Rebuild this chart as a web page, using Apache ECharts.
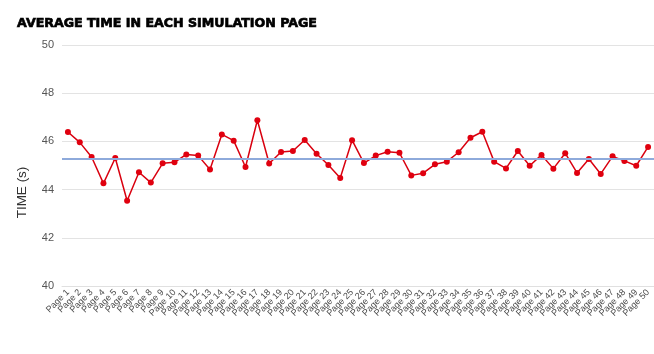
<!DOCTYPE html>
<html>
<head>
<meta charset="utf-8">
<script src="https://cdn.jsdelivr.net/npm/echarts@6/dist/echarts.min.js"></script>
<style>html,body{margin:0;padding:0;background:#fff}#c{width:654px;height:354px}</style>
</head>
<body>
<div id="c"></div>
<script>
const titleText = 'AVERAGE TIME IN EACH SIMULATION PAGE';
const yAxisName = 'TIME (s)';
const categories = [];
for (let i = 1; i <= 50; i++) categories.push('Page ' + i);
const avgTime = [
  46.39, 45.96, 45.35, 44.26, 45.31, 43.54, 44.72, 44.29, 45.09, 45.13,
  45.46, 45.41, 44.83, 46.29, 46.03, 44.94, 46.88, 45.08, 45.56, 45.60,
  46.06, 45.49, 45.02, 44.48, 46.05, 45.10, 45.41, 45.57, 45.53, 44.59,
  44.68, 45.05, 45.16, 45.55, 46.15, 46.40, 45.16, 44.88, 45.60, 44.99,
  45.44, 44.87, 45.51, 44.69, 45.27, 44.65, 45.38, 45.19, 44.99, 45.77
];
const yTicks = { min: 40, max: 50, interval: 2 };

const chart = echarts.init(document.getElementById('c'));
chart.setOption({
  animation: false,
  backgroundColor: '#fff',
  title: {
    text: titleText, left: 12, top: 12, padding: 5,
    textStyle: { fontFamily: 'DejaVu Sans', fontWeight: 'bold', fontSize: 12.6, color: '#000',
      textBorderColor: '#000', textBorderWidth: 0.7 }
  },
  grid: { left: 62, right: 0, top: 45, bottom: 68 },
  xAxis: {
    type: 'category', data: categories, boundaryGap: true,
    axisLine: { show: true, lineStyle: { color: '#e0e0e0' } },
    axisTick: { show: false },
    axisLabel: { interval: 0, rotate: 45, fontSize: 9, color: '#4a4a4a', fontFamily: 'Liberation Sans', margin: 5 }
  },
  yAxis: {
    type: 'value', min: yTicks.min, max: yTicks.max, interval: yTicks.interval,
    name: yAxisName, nameLocation: 'middle', nameGap: 33,
    nameTextStyle: { fontSize: 13.5, color: '#333', fontFamily: 'Liberation Sans', padding: [0, 54, 0, 0] },
    axisLine: { show: false }, axisTick: { show: false },
    axisLabel: { fontSize: 11, color: '#555', fontFamily: 'Liberation Sans', margin: 8 },
    splitLine: { lineStyle: { color: '#e3e3e3', width: 1 } }
  },
  series: [{
    type: 'line', data: avgTime,
    symbol: 'circle', symbolSize: 6,
    itemStyle: { color: '#e0000f' },
    lineStyle: { color: '#d9000f', width: 1.5 },
    markLine: {
      silent: true, symbol: 'none',
      label: { show: false },
      lineStyle: { color: '#8eaadb', width: 2, type: 'solid' },
      data: [{ type: 'average' }]
    },
    z: 3
  }]
});
</script>
</body>
</html>
